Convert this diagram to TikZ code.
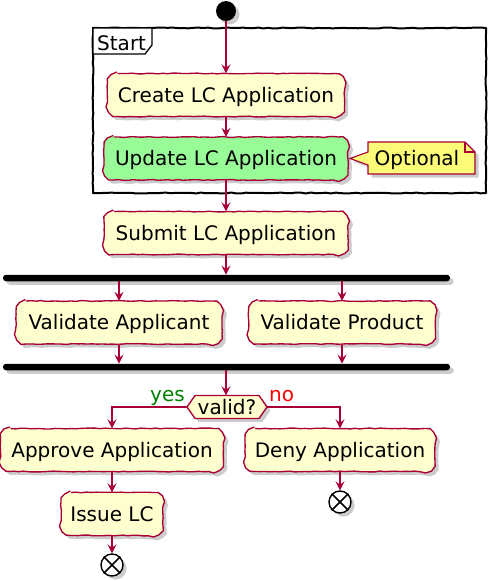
\documentclass[tikz,border=0pt]{standalone}
\usepackage{fontspec}
\setmainfont{DejaVu Sans}
\usetikzlibrary{arrows.meta,shadows,decorations.pathmorphing,calc}
\definecolor{umlred}{HTML}{A80036}
\definecolor{actfill}{HTML}{FEFECE}
\definecolor{notefill}{HTML}{FBFB77}
\definecolor{greenfill}{HTML}{98FB98}
\definecolor{yesgreen}{HTML}{008000}
\definecolor{nored}{HTML}{FF0000}
\pgfmathsetseed{7}
% name, cx, cy, width, fill colour, text  (corner radius 10)
\newcommand\actnode[6]{%
  \draw[draw=umlred, line width=1.35pt, fill=#5, shad, wobble]
    ({#2-#4/2+10},{#3-21.5}) -- ({#2+#4/2-10},{#3-21.5})
    .. controls ({#2+#4/2-4.48},{#3-21.5}) and ({#2+#4/2},{#3-17.02}) .. ({#2+#4/2},{#3-11.5})
    -- ({#2+#4/2},{#3+11.5})
    .. controls ({#2+#4/2},{#3+17.02}) and ({#2+#4/2-4.48},{#3+21.5}) .. ({#2+#4/2-10},{#3+21.5})
    -- ({#2-#4/2+10},{#3+21.5})
    .. controls ({#2-#4/2+4.48},{#3+21.5}) and ({#2-#4/2},{#3+17.02}) .. ({#2-#4/2},{#3+11.5})
    -- ({#2-#4/2},{#3-11.5})
    .. controls ({#2-#4/2},{#3-17.02}) and ({#2-#4/2+4.48},{#3-21.5}) .. ({#2-#4/2+10},{#3-21.5})
    -- cycle;
  \node[actn, minimum width=#4pt] (#1) at (#2,#3) {#6};%
}
\begin{document}
\begin{tikzpicture}[x=1pt,y=-1pt,
  font=\fontsize{20}{24}\selectfont,
  wobble/.style={decorate,decoration={random steps,segment length=5pt,amplitude=0.45pt}},
  shad/.style={drop shadow={shadow xshift=3.5pt,shadow yshift=-3.5pt,opacity=0.4}},
  actn/.style={minimum height=43pt, inner sep=0pt, text height=14.2pt, text depth=0pt},
  flow/.style={draw=umlred, line width=1.1pt, -{Stealth[length=9pt,width=9pt,inset=3.5pt]}},
  barbox/.style={fill=black, minimum width=447pt, minimum height=6.5pt, inner sep=0pt, rounded corners=3pt, shad},
  endbox/.style={circle, draw=black, fill=white, line width=1.4pt, minimum size=22pt, inner sep=0pt, shad}
]
\useasboundingbox (0,0) rectangle (491,581);

% start group frame
\draw[line width=2pt, wobble, line join=round] (93,28) -- (486,28) -- (486,193) -- (93,193) -- cycle;
\draw[line width=1.3pt, fill=white] (93,28) -- (152,28) -- (152,45) -- (145,54) -- (93,54) -- cycle;
\node[anchor=base west, inner sep=0pt] (grouplbl) at (97,50) {Start};

% start
\node[circle, fill=black, minimum size=20pt, inner sep=0pt, shad] (start) at (226,11) {};

% activities
\actnode{create}{226}{95}{237}{actfill}{Create LC Application}
\actnode{update}{226}{158.5}{244}{greenfill}{Update LC Application}

% note
\draw[draw=umlred, line width=1.1pt, fill=notefill, shad]
  (368,142) -- (465,142) -- (475,152) -- (475,174) -- (368,174) -- (368,165) -- (350,158.5) -- (368,152) -- cycle;
\draw[draw=umlred, line width=1.1pt] (465,142) -- (465,152) -- (475,152);
\node[inner sep=0pt, text height=14.2pt, text depth=0pt] (note) at (417,158.5) {Optional};

\actnode{submit}{226}{233}{244}{actfill}{Submit LC Application}

% fork / join bars
\node[barbox] (fork) at (226.5,278) {};
\actnode{va}{119}{322.5}{206}{actfill}{Validate Applicant}
\actnode{vp}{342}{322.5}{187}{actfill}{Validate Product}
\node[barbox] (join) at (226.5,367) {};

% decision
\draw[draw=umlred, line width=1.35pt, fill=actfill, shad]
  (187,407) -- (195,395.5) -- (259,395.5) -- (267,407) -- (259,418.5) -- (195,418.5) -- cycle;
\node[minimum width=80pt, minimum height=23pt, inner sep=0pt, text height=14.2pt, text depth=0pt] (valid) at (227,407) {valid?};
\node[anchor=base east, inner sep=0pt, text=yesgreen] (yes) at (185,401) {yes};
\node[anchor=base west, inner sep=0pt, text=nored] (no) at (269,401) {no};

\actnode{approve}{112}{450}{223}{actfill}{Approve Application}
\actnode{deny}{340}{450}{190}{actfill}{Deny Application}
\actnode{issue}{112}{514}{102}{actfill}{Issue LC}

% end nodes
\node[endbox] (end1) at (112,565) {};
\draw[line width=1.6pt] (end1.north west) -- (end1.south east) (end1.north east) -- (end1.south west);
\node[endbox] (end2) at (340,502) {};
\draw[line width=1.6pt] (end2.north west) -- (end2.south east) (end2.north east) -- (end2.south west);

% connectors
\draw[flow] (start) -- (create);
\draw[flow] (create) -- (update);
\draw[flow] (update) -- (submit);
\draw[flow] (submit) -- (submit |- fork.north);
\draw[flow] (fork.south -| va.north) -- (va);
\draw[flow] (fork.south -| vp.north) -- (vp);
\draw[flow] (va) -- (va |- join.north);
\draw[flow] (vp) -- (vp |- join.north);
\draw[flow] (join.south -| submit) -- (submit |- valid.north);
\draw[flow] (valid.west) -| (approve);
\draw[flow] (valid.east) -| (deny);
\draw[flow] (approve) -- (issue);
\draw[flow] (issue) -- (end1);
\draw[flow] (deny) -- (end2);
\end{tikzpicture}
\end{document}
